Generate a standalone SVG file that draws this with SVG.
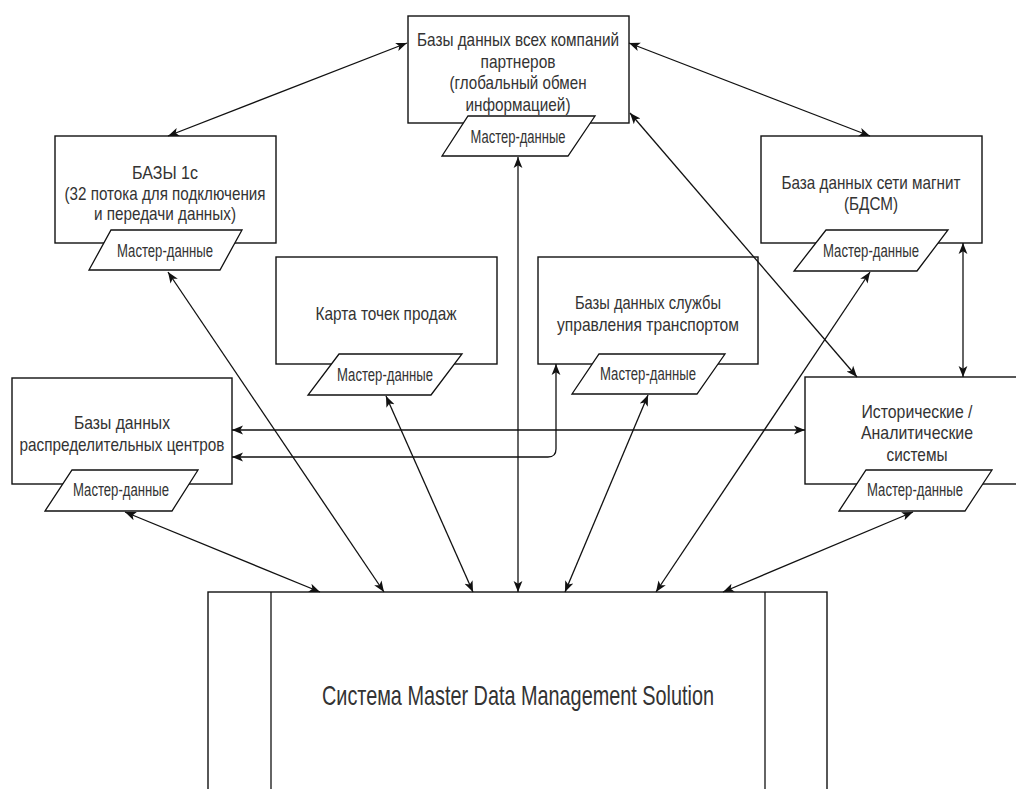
<svg xmlns="http://www.w3.org/2000/svg" width="1016" height="789" viewBox="0 0 1016 789">
  <style>
    .box { fill: #fff; stroke: #111; stroke-width: 1.4; }
    .para { fill: #fff; stroke: #111; stroke-width: 1.3; }
    .lbl { font-family: "Liberation Sans", Arial, sans-serif; font-size: 18.5px; fill: #333; text-anchor: middle; dominant-baseline: central; }
    .md { font-family: "Liberation Sans", Arial, sans-serif; font-size: 17.5px; fill: #333; text-anchor: middle; dominant-baseline: central; }
    .big { font-family: "Liberation Sans", Arial, sans-serif; font-size: 28px; fill: #333; text-anchor: middle; dominant-baseline: central; }
    .con { fill: none; stroke: #111; stroke-width: 1.3; marker-start: url(#arr); marker-end: url(#arr); }
  </style>
  <defs>
    <marker id="arr" viewBox="0 0 10 10" refX="10" refY="5" markerWidth="11" markerHeight="11" markerUnits="userSpaceOnUse" orient="auto-start-reverse">
      <path d="M0,1 L10,5 L0,9 L2.5,5 z" fill="#111"/>
    </marker>
  </defs>
  <rect width="1016" height="789" fill="#fff"/>

  <!-- Central MDM system -->
  <g id="mdm">
    <rect class="box" x="208" y="592" width="619" height="220"/>
    <line x1="271" y1="592" x2="271" y2="800" stroke="#111" stroke-width="1.3"/>
    <line x1="765" y1="592" x2="765" y2="800" stroke="#111" stroke-width="1.3"/>
    <text class="big" x="518" y="695" textLength="392" lengthAdjust="spacingAndGlyphs">Система Master Data Management Solution</text>
  </g>

  <!-- Partner companies databases -->
  <g id="partners">
    <rect class="box" x="408" y="16" width="221" height="107"/>
    <text class="lbl" x="518" y="39" textLength="202" lengthAdjust="spacingAndGlyphs">Базы данных всех компаний</text>
    <text class="lbl" x="518" y="61" textLength="75" lengthAdjust="spacingAndGlyphs">партнеров</text>
    <text class="lbl" x="518" y="82" textLength="137" lengthAdjust="spacingAndGlyphs">(глобальный обмен</text>
    <text class="lbl" x="518" y="104" textLength="105" lengthAdjust="spacingAndGlyphs">информацией)</text>
    <polygon class="para" points="468,116 595,116 568,156 442,156"/>
    <text class="md" x="518" y="137" textLength="95" lengthAdjust="spacingAndGlyphs">Мастер-данные</text>
  </g>

  <!-- 1C databases -->
  <g id="db1c">
    <rect class="box" x="55" y="136" width="221" height="107"/>
    <text class="lbl" x="165" y="172" textLength="66" lengthAdjust="spacingAndGlyphs">БАЗЫ 1с</text>
    <text class="lbl" x="165" y="193" textLength="201" lengthAdjust="spacingAndGlyphs">(32 потока для подключения</text>
    <text class="lbl" x="165" y="213" textLength="142" lengthAdjust="spacingAndGlyphs">и передачи данных)</text>
    <polygon class="para" points="111,230 242,230 220,270 89,270"/>
    <text class="md" x="165" y="251" textLength="96" lengthAdjust="spacingAndGlyphs">Мастер-данные</text>
  </g>

  <!-- Magnit network database -->
  <g id="bdsm">
    <rect class="box" x="761" y="136" width="221" height="107"/>
    <text class="lbl" x="871" y="182" textLength="179" lengthAdjust="spacingAndGlyphs">База данных сети магнит</text>
    <text class="lbl" x="871" y="203" textLength="54" lengthAdjust="spacingAndGlyphs">(БДСМ)</text>
    <polygon class="para" points="826,230 948,230 917,271 794,271"/>
    <text class="md" x="871" y="251" textLength="96" lengthAdjust="spacingAndGlyphs">Мастер-данные</text>
  </g>

  <!-- Sales points map -->
  <g id="salesmap">
    <rect class="box" x="276" y="257" width="221" height="107"/>
    <text class="lbl" x="386" y="313" textLength="141" lengthAdjust="spacingAndGlyphs">Карта точек продаж</text>
    <polygon class="para" points="339,354 462,354 431,395 308,395"/>
    <text class="md" x="385" y="375" textLength="96" lengthAdjust="spacingAndGlyphs">Мастер-данные</text>
  </g>

  <!-- Transport management databases -->
  <g id="transport">
    <rect class="box" x="538" y="257" width="220" height="107"/>
    <text class="lbl" x="648" y="302" textLength="146" lengthAdjust="spacingAndGlyphs">Базы данных службы</text>
    <text class="lbl" x="648" y="324" textLength="182" lengthAdjust="spacingAndGlyphs">управления транспортом</text>
    <polygon class="para" points="599,354 725,354 697,394 572,394"/>
    <text class="md" x="648" y="374" textLength="96" lengthAdjust="spacingAndGlyphs">Мастер-данные</text>
  </g>

  <!-- Distribution centres databases -->
  <g id="distribution">
    <rect class="box" x="12" y="378" width="220" height="106"/>
    <text class="lbl" x="122" y="422" textLength="96" lengthAdjust="spacingAndGlyphs">Базы данных</text>
    <text class="lbl" x="122" y="444" textLength="205" lengthAdjust="spacingAndGlyphs">распределительных центров</text>
    <polygon class="para" points="72,470 198,470 172,511 45,511"/>
    <text class="md" x="121" y="490" textLength="96" lengthAdjust="spacingAndGlyphs">Мастер-данные</text>
  </g>

  <!-- Historical / analytical systems -->
  <g id="analytics">
    <rect class="box" x="805" y="377" width="222" height="107"/>
    <text class="lbl" x="917" y="411" textLength="111" lengthAdjust="spacingAndGlyphs">Исторические /</text>
    <text class="lbl" x="917" y="432" textLength="112" lengthAdjust="spacingAndGlyphs">Аналитические</text>
    <text class="lbl" x="917" y="454" textLength="61" lengthAdjust="spacingAndGlyphs">системы</text>
    <polygon class="para" points="866,470 992,470 965,511 839,511"/>
    <text class="md" x="915" y="490" textLength="96" lengthAdjust="spacingAndGlyphs">Мастер-данные</text>
  </g>

  <!-- Data exchange links -->
  <g id="connectors">
    <line class="con" x1="407" y1="43" x2="168" y2="136"/>
    <line class="con" x1="629" y1="43" x2="870" y2="136"/>
    <line class="con" x1="630" y1="113" x2="857" y2="377"/>
    <line class="con" x1="518" y1="157" x2="518" y2="592"/>
    <line class="con" x1="168" y1="272" x2="384" y2="592"/>
    <line class="con" x1="386" y1="396" x2="473" y2="592"/>
    <line class="con" x1="648" y1="395" x2="565" y2="592"/>
    <line class="con" x1="870" y1="272" x2="656" y2="592"/>
    <line class="con" x1="125" y1="512" x2="320" y2="592"/>
    <line class="con" x1="913" y1="512" x2="723" y2="592"/>
    <line class="con" x1="232" y1="430" x2="805" y2="430"/>
    <path class="con" d="M232,457 H548 Q556,457 556,449 V364"/>
    <line class="con" x1="963" y1="243" x2="963" y2="377"/>
  </g>
</svg>
